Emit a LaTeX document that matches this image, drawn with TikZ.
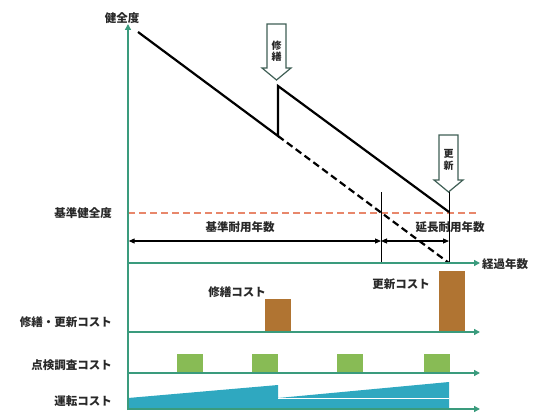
\documentclass[tikz,border=0pt]{standalone}
\usepackage{fontspec}
\setmainfont{Noto Sans CJK JP}
\usetikzlibrary{arrows.meta}
\definecolor{axisc}{RGB}{58,155,125}
\definecolor{txtc}{RGB}{40,40,40}
\definecolor{redd}{RGB}{232,135,107}
\definecolor{brownc}{RGB}{176,116,50}
\definecolor{greenc}{RGB}{136,187,85}
\definecolor{tealc}{RGB}{47,168,192}
\definecolor{arrowc}{RGB}{63,95,85}
\tikzset{
  axisline/.style={draw=axisc, line width=1.4pt, -{Triangle[length=6pt,width=6pt]}},
  lbl/.style={font=\fontsize{11.5}{12}\selectfont\bfseries, text=txtc, inner sep=0pt},
  sidelbl/.style={lbl, anchor=east},
  deg/.style={line width=2.2pt, black},
  degdash/.style={deg, dash pattern=on 7pt off 4pt},
  thinv/.style={line width=0.9pt, black},
  dimarrow/.style={line width=1.1pt, black, {Triangle[length=6pt,width=5pt]}-{Triangle[length=6pt,width=5pt]}},
  blockarrow/.style={draw=arrowc, line width=1.2pt, fill=white},
  arrowtxt/.style={font=\fontsize{10}{11.5}\selectfont\bfseries, text=txtc, align=center, inner sep=0pt},
  costbar/.style={fill=brownc, draw=none},
  inspbar/.style={fill=greenc, draw=none},
}
\begin{document}
\begin{tikzpicture}[x=1pt, y=-1pt]
\useasboundingbox (0,0) rectangle (535,412);

% coordinates
\coordinate (O) at (128,410);
\coordinate (Ytop) at (128,24);
\coordinate (X1s) at (128,263); \coordinate (X1e) at (480,263);
\coordinate (X2s) at (128,332); \coordinate (X2e) at (480,332);
\coordinate (X3s) at (128,373); \coordinate (X3e) at (480,373);
\coordinate (X4s) at (128,409); \coordinate (X4e) at (480,409);

% operation cost area
\fill[tealc] (128,398) -- (278,385) -- (278,398) -- (449,382) -- (449,409) -- (128,409) -- cycle;
\draw[white, line width=0.6pt] (278,398) -- (449,398);

% bars
\fill[costbar] (265,299) rectangle (291,332);
\fill[costbar] (439,271) rectangle (465,332);
\fill[inspbar] (177,354) rectangle (203,373);
\fill[inspbar] (252,354) rectangle (278,373);
\fill[inspbar] (337,354) rectangle (363,373);
\fill[inspbar] (424,354) rectangle (450,373);

% reference health line
\coordinate (Rs) at (128,213); \coordinate (Re) at (478,213);
\draw[redd, line width=1.6pt, dash pattern=on 7pt off 4pt] (Rs) -- (Re);

% degradation lines
\coordinate (D0) at (138,32);
\coordinate (D1) at (278,136);
\coordinate (D2) at (278,86);
\coordinate (D3) at (449,212);
\coordinate (D4) at (449,263);
\draw[deg] (D0) -- (D1) -- (D2) -- (D3);
\draw[degdash] (D1) -- (D4);

% vertical markers
\coordinate (V1t) at (381,192); \coordinate (V1b) at (381,263);
\coordinate (V2t) at (449,192); \coordinate (V2b) at (449,263);
\draw[thinv] (V1t) -- (V1b);
\draw[thinv] (V2t) -- (V2b);

% dimension arrows
\coordinate (A0) at (128.7,241); \coordinate (A1) at (381,241); \coordinate (A2) at (449,241);
\draw[dimarrow] (A0) -- (A1);
\draw[dimarrow] (A1) -- (A2);
\node[lbl] (kijun) at (240,227) {基準耐用年数};
\node[lbl] (encho) at (450,227) {延長耐用年数};

% axes
\draw[axisline] (O) -- (Ytop);
\draw[axisline] (X1s) -- (X1e);
\draw[axisline] (X2s) -- (X2e);
\draw[axisline] (X3s) -- (X3e);
\draw[axisline] (X4s) -- (X4e);

% block arrows
\draw[blockarrow] (267,24) -- (286,24) -- (286,68) -- (291,68) -- (276.5,80) -- (262,68) -- (267,68) -- cycle;
\node[arrowtxt] (shuzen) at (276.5,51) {修\\繕};
\draw[blockarrow] (439,135) -- (458,135) -- (458,180) -- (463,180) -- (448.5,192) -- (434,180) -- (439,180) -- cycle;
\node[arrowtxt] (koshin) at (448.5,160) {更\\新};

% labels
\node[lbl] (ylab) at (122,18) {健全度};
\node[lbl, anchor=west] (xlab) at (482,264) {経過年数};
\node[sidelbl] (l1) at (112,213) {基準健全度};
\node[sidelbl] (l2) at (112,322) {修繕・更新コスト};
\node[sidelbl] (l3) at (112,365) {点検調査コスト};
\node[sidelbl] (l4) at (112,401) {運転コスト};
\node[lbl] (c1) at (237,292) {修繕コスト};
\node[lbl] (c2) at (401,284) {更新コスト};
\end{tikzpicture}
\end{document}
